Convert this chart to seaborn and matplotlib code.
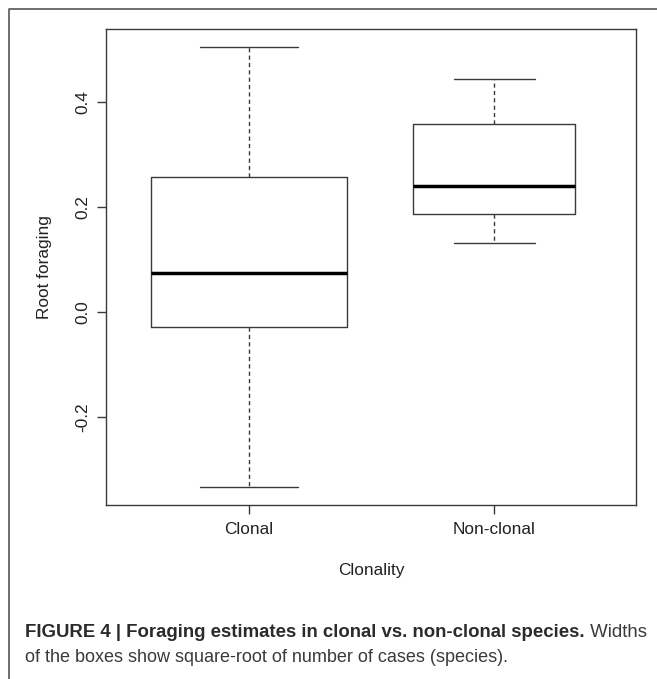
import numpy as np
import pandas as pd
import matplotlib
matplotlib.use("Agg")
import matplotlib.pyplot as plt
import seaborn as sns
from matplotlib.lines import Line2D

# ---- data (five-number summaries) ----
categories = ["Clonal", "Non-clonal"]
clonal_vals = [-0.334, -0.029, 0.073, 0.257, 0.505]
nonclonal_vals = [0.131, 0.186, 0.240, 0.358, 0.443]
box_widths = [0.80, 0.66]          # varwidth: sqrt(number of species)
y_ticks = [-0.2, 0.0, 0.2, 0.4]
x_label = "Clonality"
y_label = "Root foraging"
caption_bold = "FIGURE 4 | Foraging estimates in clonal vs. non-clonal species."
caption_rest1 = " Widths"
caption_line2 = "of the boxes show square-root of number of cases (species)."

df = pd.DataFrame({
    x_label: [categories[0]] * len(clonal_vals) + [categories[1]] * len(nonclonal_vals),
    y_label: clonal_vals + nonclonal_vals,
})

sns.set_theme(style="white")
plt.rcParams["font.family"] = ["Liberation Sans", "DejaVu Sans"]

W, H, DPI = 657, 679, 100
fig = plt.figure(figsize=(W / DPI, H / DPI), dpi=DPI)
ax = fig.add_axes([106 / W, 1 - 505 / H, (636 - 106) / W, (505 - 29.3) / H])

line_col = "#3a3a3a"
for cat, wd in zip(categories, box_widths):
    sub = df[df[x_label] == cat]
    sns.boxplot(
        data=sub, x=x_label, y=y_label, order=categories, ax=ax,
        width=wd, whis=(0, 100), showfliers=False, fill=False,
        color=line_col, linewidth=1.0,
        boxprops={"color": line_col, "linewidth": 1.0},
        whiskerprops={"color": line_col, "linewidth": 1.0, "linestyle": (0, (3, 2.3))},
        capprops={"color": line_col, "linewidth": 1.0, "linestyle": "-"},
        medianprops={"color": "black", "linewidth": 2.5},
    )

ax.set_xlim(-0.582, 1.578)
ax.set_ylim(-0.368, 0.538)
ax.set_yticks(y_ticks)
ax.set_yticklabels([f"{v:.1f}" for v in y_ticks], rotation=90, va="center")
ax.set_xticks([0, 1])
ax.set_xticklabels(categories)

for sp in ax.spines.values():
    sp.set_visible(True)
    sp.set_color(line_col)
    sp.set_linewidth(1.0)

ax.tick_params(axis="both", which="major", direction="out", length=6.2, width=1.0,
               color=line_col, labelsize=12.4, labelcolor="#222222",
               left=True, bottom=True)
ax.tick_params(axis="y", pad=5)
ax.tick_params(axis="x", pad=6)

ax.set_xlabel(x_label, fontsize=12.4, color="#222222")
ax.set_ylabel(y_label, fontsize=12.4, color="#222222")
ax.xaxis.set_label_coords((371 - 106) / (636 - 106), -(570 - 505) / (505 - 29.3))
ax.yaxis.set_label_coords(-(106 - 44) / (636 - 106), 0.5)
ax.xaxis.label.set_va("center")
ax.yaxis.label.set_va("center")

# outer frame (left and top edges visible)
frame = Line2D([8.5 / W, 8.5 / W, 1.0], [0.0, 1 - 9 / H, 1 - 9 / H],
               transform=fig.transFigure, color="#555555", linewidth=1.2)
fig.add_artist(frame)

# caption, fitted to the widths seen in the reference
renderer = fig.canvas.get_renderer()
cap_family = ["Liberation Sans Narrow", "Liberation Sans", "DejaVu Sans"]

def fit_text(x_px, y_px, s, target_w, base_size, **kw):
    t = fig.text(x_px / W, 1 - y_px / H, s, fontsize=base_size, va="baseline",
                 ha="left", transform=fig.transFigure, family=cap_family, **kw)
    w = t.get_window_extent(renderer).width
    t.set_fontsize(base_size * target_w / w)
    return t

tb = fit_text(25, 637, caption_bold, 584 - 25, 12, fontweight="bold", color="#2b2b2b")
bb = tb.get_window_extent(renderer)
fs1 = tb.get_fontsize()
tr = fig.text(bb.x1 / W, 1 - 637 / H, caption_rest1, fontsize=fs1, va="baseline",
              ha="left", family=cap_family, color="#3a3a3a")
t2 = fit_text(25, 662, caption_line2, 510 - 25, 12, color="#3a3a3a")

fig.savefig("out.png", dpi=DPI)
